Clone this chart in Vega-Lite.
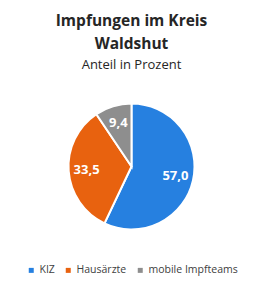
{
  "$schema": "https://vega.github.io/schema/vega-lite/v6.json",
  "width": 263,
  "height": 288,
  "autosize": {"type": "fit", "contains": "padding"},
  "padding": {"top": 13, "bottom": 12, "left": 5, "right": 5},
  "background": "white",
  "title": {
    "text": ["Impfungen im Kreis", "Waldshut"],
    "subtitle": "Anteil in Prozent",
    "anchor": "middle",
    "font": "Open Sans",
    "fontSize": 15.5,
    "fontWeight": "bold",
    "color": "#262626",
    "lineHeight": 23,
    "subtitleFont": "Open Sans",
    "subtitleFontSize": 13,
    "subtitleColor": "#262626",
    "subtitlePadding": 7,
    "offset": 8
  },
  "data": {
    "values": [
      {"Kategorie": "KIZ", "Anteil": 57.0, "Label": "57,0", "Reihenfolge": 1},
      {"Kategorie": "Hausärzte", "Anteil": 33.5, "Label": "33,5", "Reihenfolge": 2},
      {"Kategorie": "mobile Impfteams", "Anteil": 9.4, "Label": "9,4", "Reihenfolge": 3}
    ]
  },
  "encoding": {
    "theta": {"field": "Anteil", "type": "quantitative", "stack": true},
    "order": {"field": "Reihenfolge", "type": "quantitative"},
    "color": {
      "field": "Kategorie",
      "type": "nominal",
      "scale": {
        "domain": ["KIZ", "Hausärzte", "mobile Impfteams"],
        "range": ["#2680E0", "#E8620F", "#8E8E8E"]
      },
      "legend": {
        "orient": "bottom",
        "direction": "horizontal",
        "title": null,
        "symbolType": "square",
        "symbolSize": 25,
        "symbolStrokeWidth": 0,
        "labelFont": "Open Sans",
        "labelFontSize": 10.5,
        "labelColor": "#404040",
        "columnPadding": 8,
        "labelOffset": 3,
        "offset": 12
      }
    }
  },
  "layer": [
    {
      "mark": {"type": "arc", "outerRadius": 63, "stroke": "white", "strokeWidth": 2}
    },
    {
      "mark": {"type": "text", "radius": 45, "font": "Open Sans", "fontSize": 13, "fontWeight": "bold", "fill": "white"},
      "encoding": {
        "text": {"field": "Label", "type": "nominal"},
        "color": {"value": "white"}
      }
    }
  ],
  "config": {
    "view": {"stroke": null},
    "legend": {"layout": {"bottom": {"anchor": "middle"}}}
  }
}
